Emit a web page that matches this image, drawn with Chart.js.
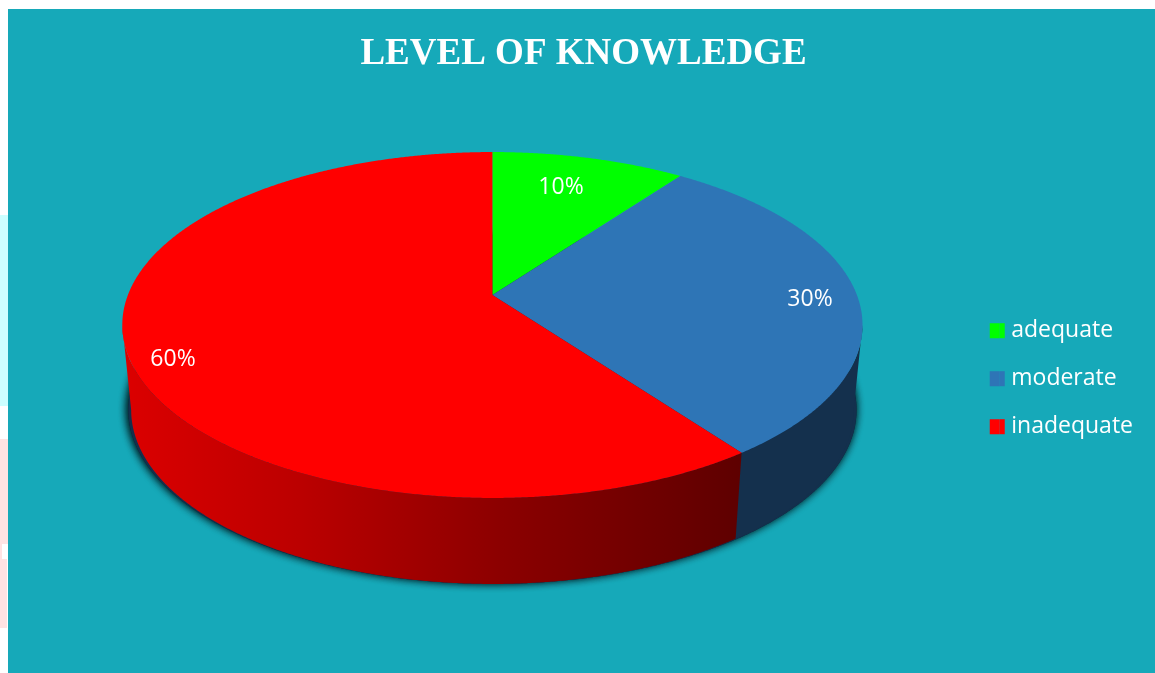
<!DOCTYPE html>
<html>
<head>
<meta charset="utf-8">
<style>
html,body{margin:0;padding:0;background:#fff;overflow:hidden;width:1155px;height:673px}
#wrap{position:absolute;left:8px;top:9px;width:1147px;height:664px;background:#16a9b9}
.strip{position:absolute;left:0;width:8px}
</style>
<script src="https://cdn.jsdelivr.net/npm/chart.js@4/dist/chart.umd.min.js"></script>
</head>
<body>
<div class="strip" style="top:215px;height:191px;background:#ccffff"></div>
<div class="strip" style="top:439px;height:105px;background:#ffe3e3"></div>
<div class="strip" style="top:544px;height:15px;width:2px;background:#ffe3e3"></div>
<div class="strip" style="top:559px;height:69px;width:7px;background:#ffe3e3"></div>
<div id="wrap"><canvas id="c" width="1147" height="664" style="display:block"></canvas></div>
<script>
const categories = ['adequate', 'moderate', 'inadequate'];
const percentValues = [10, 30, 60];
const sliceColors = ['#00ff00', '#2e75b6', '#ff0000'];
const chartTitle = 'LEVEL OF KNOWLEDGE';

// canvas is offset from the page by (8, 9); projection is in page pixels
const OX = 8, OY = 9;
const CX = 492.4, APEX_Y = 295, D = 364.5, A = -116.6, C = 0.1734;
const ELL_CY = 325;
function topPt(r, th) {
  const x = r * Math.sin(th), y = r * Math.cos(th), den = 1 + C * y;
  return [CX + D * x / den - OX, (A * y + APEX_Y) / den - OY];
}
function botPt(th) {
  const p = topPt(1, th);
  return [CX - OX + (p[0] - CX + OX) * 0.976, 410 - OY + (p[1] + OY - ELL_CY) * (174 / 173)];
}
function thetas(s, e) {
  const out = [], n = Math.max(2, Math.ceil((e - s) / 0.005));
  for (let i = 0; i <= n; i++) out.push(s + (e - s) * i / n);
  return out;
}
const labelAnchors = [[561 - OX, 187 - OY], [810 - OX, 299 - OY], [173 - OX, 359 - OY]];
const wallStyles = function (ctx) {
  const g = ctx.createLinearGradient(122 - OX, 0, 740 - OX, 0);
  g.addColorStop(0, '#dc0000');
  g.addColorStop(0.29, '#bb0000');
  g.addColorStop(0.61, '#8c0000');
  g.addColorStop(1, '#5e0000');
  return ['#007000', '#14304d', g];
};
const WALL_FROM = 100 * Math.PI / 180, WALL_TO = 260 * Math.PI / 180;

const pie3d = {
  id: 'pie3d',
  beforeDatasetsDraw(chart) {
    const ctx = chart.ctx;
    const arcs = chart.getDatasetMeta(0).data;
    const spans = arcs.map(a => [a.startAngle + Math.PI / 2, a.endAngle + Math.PI / 2]);
    const walls = wallStyles(ctx);
    ctx.save();
    // drop shadow under the base
    ctx.save();
    ctx.shadowColor = 'rgba(0,25,30,0.9)';
    ctx.shadowBlur = 8;
    ctx.shadowOffsetX = -1;
    ctx.shadowOffsetY = -1;
    ctx.fillStyle = '#14304d';
    for (let pass = 0; pass < 2; pass++) {
      ctx.beginPath();
      thetas(0, Math.PI * 2).forEach((t, i) => {
        const p = botPt(t);
        const sx = CX - OX + (p[0] - CX + OX) * 1.008;
        i ? ctx.lineTo(sx, p[1]) : ctx.moveTo(sx, p[1]);
      });
      ctx.closePath();
      ctx.fill();
    }
    ctx.restore();
    // side walls along the visible front rim
    spans.forEach((s, i) => {
      const from = Math.max(s[0], WALL_FROM), to = Math.min(s[1], WALL_TO);
      if (to <= from) return;
      const ts = thetas(from, to);
      ctx.fillStyle = walls[i];
      ctx.beginPath();
      ts.forEach((t, k) => {
        const p = topPt(1, t);
        k ? ctx.lineTo(p[0], p[1]) : ctx.moveTo(p[0], p[1]);
      });
      ts.slice().reverse().forEach(t => {
        const p = botPt(t);
        ctx.lineTo(p[0], p[1]);
      });
      ctx.closePath();
      ctx.fill();
    });
    // top faces
    spans.forEach((s, i) => {
      ctx.fillStyle = arcs[i].options.backgroundColor;
      ctx.beginPath();
      ctx.moveTo(topPt(0, 0)[0], topPt(0, 0)[1]);
      thetas(s[0], s[1]).forEach(t => {
        const p = topPt(1, t);
        ctx.lineTo(p[0], p[1]);
      });
      ctx.closePath();
      ctx.fill();
    });
    // value labels
    ctx.fillStyle = '#ffffff';
    ctx.font = '23px "Open Sans"';
    ctx.textAlign = 'center';
    ctx.textBaseline = 'middle';
    percentValues.forEach((v, i) => {
      ctx.fillText(v + '%', labelAnchors[i][0], labelAnchors[i][1]);
    });
    ctx.restore();
    return false;
  },
  afterDraw(chart) {
    // widen the legend swatches without widening the swatch-to-text gap
    const ctx = chart.ctx, boxes = chart.legend.legendHitBoxes;
    boxes.forEach((b, i) => {
      ctx.fillStyle = sliceColors[i];
      ctx.fillRect(b.left + 10, b.top + (b.height - 15) / 2, 5, 15);
    });
  }
};

new Chart(document.getElementById('c'), {
  type: 'pie',
  data: {
    labels: categories,
    datasets: [{ data: percentValues, backgroundColor: sliceColors, borderWidth: 0 }]
  },
  plugins: [pie3d],
  options: {
    responsive: false,
    animation: false,
    layout: { padding: { left: 16, right: 12, top: 0, bottom: 0 } },
    plugins: {
      tooltip: { enabled: false },
      title: {
        display: true,
        text: chartTitle,
        color: '#ffffff',
        font: { family: '"Liberation Serif"', size: 37, weight: 'bold' },
        padding: { top: 23.5, bottom: 7.5 }
      },
      legend: {
        position: 'right',
        fullSize: false,
        labels: {
          color: '#ffffff',
          boxWidth: 10,
          boxHeight: 15,
          padding: 25,
          font: { family: '"Open Sans"', size: 23 }
        }
      }
    }
  }
});
</script>
</body>
</html>
